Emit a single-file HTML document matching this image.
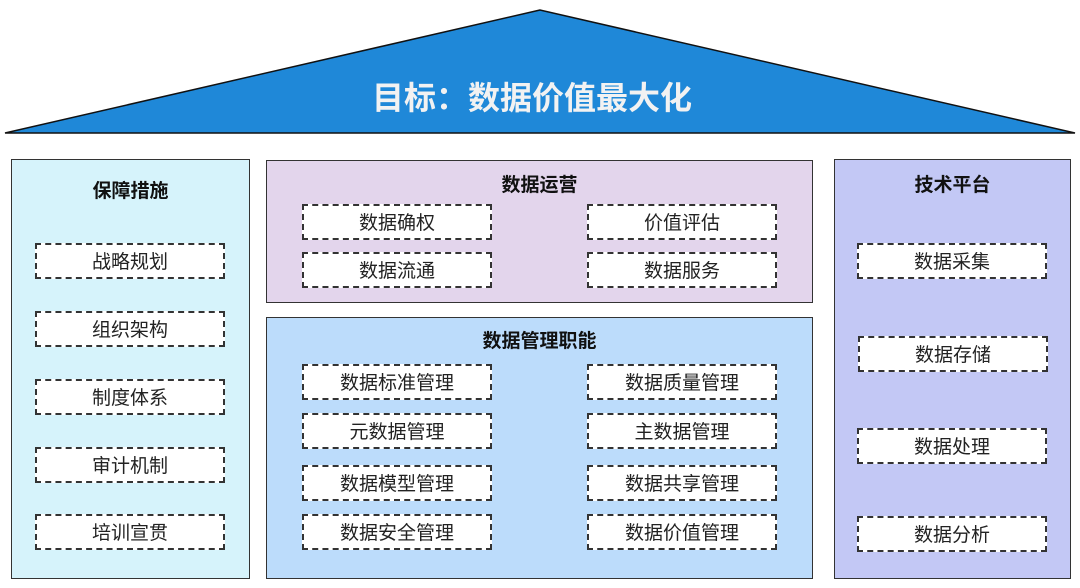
<!DOCTYPE html>
<html><head><meta charset="utf-8"><style>
body{margin:0;width:1080px;height:588px;background:#fff;position:relative;overflow:hidden;font-family:"Liberation Sans","Noto Sans CJK SC",sans-serif;}
.p{position:absolute;border:1.5px solid #333;box-sizing:border-box;}
.t{position:absolute;font-weight:bold;font-size:19px;color:#111;text-align:center;line-height:24px;}
.b{position:absolute;width:190px;height:36px;box-sizing:border-box;border:2px dashed #333;background:#fff;text-align:center;line-height:35px;font-size:19px;color:#222;}
</style></head><body>
<svg style="position:absolute;left:0;top:0" width="1080" height="140">
<polygon points="540,10 5,133 1075,133" fill="#1f88d8" stroke="#111" stroke-width="1.5"/>
<text x="532" y="109" text-anchor="middle" fill="#f2f2f2" font-size="32" font-weight="bold" font-family="Liberation Sans, Noto Sans CJK SC, sans-serif">目标：数据价值最大化</text>
</svg>
<div class="p" style="left:11px;top:159px;width:239px;height:420px;background:#d6f3fb"></div>
<div class="t" style="left:11px;top:180px;width:239px">保障措施</div>
<div class="b" style="left:35px;top:243px">战略规划</div>
<div class="b" style="left:35px;top:311px">组织架构</div>
<div class="b" style="left:35px;top:379px">制度体系</div>
<div class="b" style="left:35px;top:447px">审计机制</div>
<div class="b" style="left:35px;top:514px">培训宣贯</div>

<div class="p" style="left:266px;top:160px;width:547px;height:143px;background:#e3d5ec"></div>
<div class="t" style="left:266px;top:174px;width:547px">数据运营</div>
<div class="b" style="left:302px;top:204px">数据确权</div>
<div class="b" style="left:587px;top:204px">价值评估</div>
<div class="b" style="left:302px;top:252px">数据流通</div>
<div class="b" style="left:587px;top:252px">数据服务</div>

<div class="p" style="left:266px;top:317px;width:547px;height:262px;background:#bcdcfb"></div>
<div class="t" style="left:266px;top:330px;width:547px">数据管理职能</div>
<div class="b" style="left:302px;top:364px">数据标准管理</div>
<div class="b" style="left:587px;top:364px">数据质量管理</div>
<div class="b" style="left:302px;top:413px">元数据管理</div>
<div class="b" style="left:587px;top:413px">主数据管理</div>
<div class="b" style="left:302px;top:465px">数据模型管理</div>
<div class="b" style="left:587px;top:465px">数据共享管理</div>
<div class="b" style="left:302px;top:514px">数据安全管理</div>
<div class="b" style="left:587px;top:514px">数据价值管理</div>

<div class="p" style="left:834px;top:159px;width:237px;height:420px;background:#c3c8f5"></div>
<div class="t" style="left:834px;top:174px;width:237px">技术平台</div>
<div class="b" style="left:857px;top:243px">数据采集</div>
<div class="b" style="left:858px;top:336px">数据存储</div>
<div class="b" style="left:857px;top:428px">数据处理</div>
<div class="b" style="left:857px;top:516px">数据分析</div>
</body></html>
